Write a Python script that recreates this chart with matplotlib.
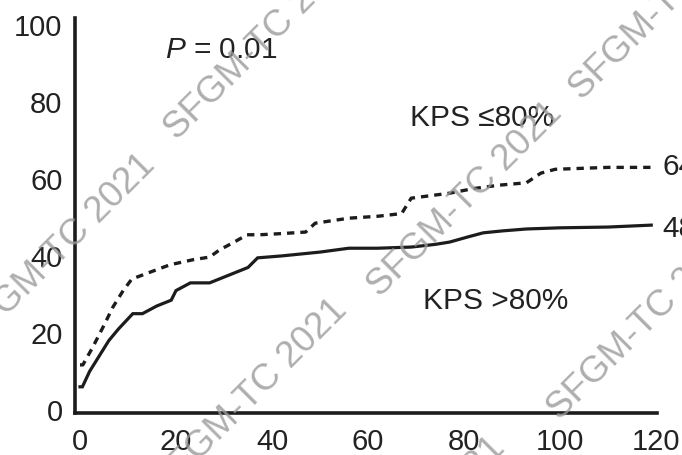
import matplotlib
matplotlib.use("Agg")
import matplotlib.pyplot as plt

# ---- Data
months_hi = [0, 0.5, 2, 4, 6, 8, 11, 13, 16, 19, 20, 23, 27, 30, 33, 35, 37,
             42, 50, 56, 62, 69, 74, 77, 81, 84, 88, 93, 100, 110, 119]
kps_hi = [6, 6, 10, 14, 18, 21, 25, 25, 27, 28.5, 31, 33, 33, 34.5, 36, 37, 39.5,
          40, 41, 42, 42, 42.3, 43, 43.6, 45, 46, 46.5, 47, 47.3, 47.5, 48]

months_lo = [0, 0.6, 2.7, 4.8, 6.9, 9, 10.8, 14, 18.75, 23.5, 27, 29, 32.7, 34.8,
             37.5, 42, 47, 49, 56, 62, 67, 69, 77, 82, 87.5, 93, 96, 99, 110, 119]
kps_lo = [11.7, 11.7, 16.4, 21.5, 26.8, 31, 34, 35.5, 37.7, 39, 39.7, 41.5, 44, 45.5,
          45.5, 45.8, 46.2, 48.5, 49.8, 50.3, 51, 55, 56.3, 57.5, 58.4, 59, 61.5, 62.5, 63, 63]

x_ticks = [0, 20, 40, 60, 80, 100, 120]
y_ticks = [0, 20, 40, 60, 80, 100]
end_labels = ["64", "48"]

watermark = "SFGM-TC 2021"
# watermark centres in figure pixels (from top-left)
wm_centres = [(262, 43), (667, 3), (58, 252), (465, 200), (250, 397), (645, 323), (408, 535)]

plt.rcParams["font.family"] = ["Liberation Sans", "DejaVu Sans"]
plt.rcParams["mathtext.fontset"] = "custom"
plt.rcParams["mathtext.it"] = "Liberation Sans:italic"
plt.rcParams["mathtext.rm"] = "Liberation Sans"

W, H = 682, 455
fig = plt.figure(figsize=(W / 100, H / 100), dpi=100)
ax = fig.add_axes([75 / W, (H - 413) / H, (657 - 75) / W, (413 - 18) / H])

ink = "#1c1c1c"
ax.plot(months_hi, kps_hi, color=ink, lw=2.3, solid_joinstyle="miter")
ax.plot(months_lo, kps_lo, color=ink, lw=2.4, dashes=(2.2, 1.8))

ax.set_xlim(-1.04, 120.2)
ax.set_ylim(-0.8, 101.8)
ax.set_xticks(x_ticks)
ax.set_yticks(y_ticks)
ax.tick_params(length=0, labelsize=21, colors="#222222")
ax.tick_params(axis="y", pad=9)
ax.tick_params(axis="x", pad=11)
for s in ["top", "right"]:
    ax.spines[s].set_visible(False)
for s in ["left", "bottom"]:
    ax.spines[s].set_linewidth(2.6)
    ax.spines[s].set_color(ink)

ax.text(17.7, 93.5, r"$\mathit{P}$ = 0.01", fontsize=21.5, color="#222222", va="center")
ax.text(68.75, 75.7, "KPS \u226480%", fontsize=21.5, color="#222222", va="center")
ax.text(71.5, 28.2, "KPS >80%", fontsize=21.5, color="#222222", va="center")
ax.text(121.3, kps_lo[-1] + 0.2, end_labels[0], fontsize=21.5, color="#222222",
        va="center", clip_on=False)
ax.text(121.3, kps_hi[-1] - 1, end_labels[1], fontsize=21.5, color="#222222",
        va="center", clip_on=False)

# watermark overlay
for cx, cy in wm_centres:
    fig.text(cx / W, 1 - cy / H, watermark, rotation=45, ha="center", va="center",
             rotation_mode="anchor", fontsize=26.5, color="#9a9a9a", alpha=0.8,
             fontweight="light")

fig.savefig("out.png", dpi=100)
